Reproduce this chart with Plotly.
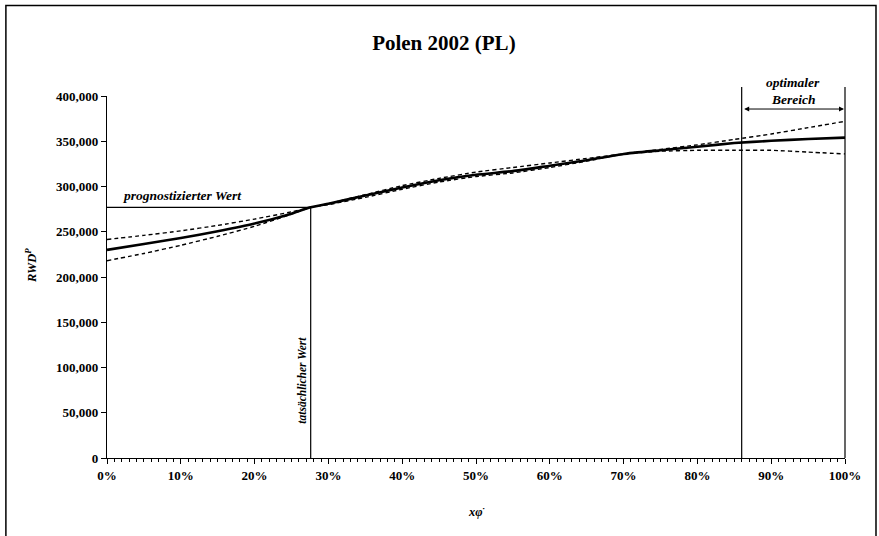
import plotly.graph_objects as go

# ---- data ----
x_pct = [0, 5, 10, 15, 20, 25, 27.6, 30, 35, 40, 45, 50, 55, 60, 65, 70, 75, 80, 85, 90, 95, 100]
rwd_main = [230000, 236500, 243000, 250500, 259000, 270000, 277000, 281000, 290000, 299000, 307000,
            313000, 317000, 323000, 329000, 336000, 340000, 344000, 348000, 350500, 352500, 354000]
rwd_upper = [241500, 246000, 251000, 257000, 264000, 272000, 277000, 281000, 291000, 301000, 309000,
             316000, 321000, 326000, 331000, 336000, 341000, 346000, 352000, 358000, 365000, 372000]
rwd_lower = [218000, 226000, 235000, 245000, 256000, 269500, 277000, 280000, 288000, 297000, 305000,
             311000, 315000, 321000, 328000, 336000, 339000, 340000, 340000, 340000, 338000, 336000]

prog_value = 277000      # prognostizierter Wert
actual_x = 27.6          # tatsächlicher Wert (%)
opt_lo, opt_hi = 86, 100 # optimaler Bereich (%)
y_max = 400000
line_top = 410000
arrow_y = 385600

x_ticks = list(range(0, 101, 10))
y_ticks = list(range(0, 400001, 50000))

FONT = "Liberation Serif"

fig = go.Figure()
fig.add_trace(go.Scatter(x=x_pct, y=rwd_upper, mode="lines",
                         line=dict(color="black", width=1.4, dash="4px,3px", shape="spline", smoothing=0.4),
                         showlegend=False))
fig.add_trace(go.Scatter(x=x_pct, y=rwd_lower, mode="lines",
                         line=dict(color="black", width=1.4, dash="4px,3px", shape="spline", smoothing=0.4),
                         showlegend=False))
fig.add_trace(go.Scatter(x=x_pct, y=rwd_main, mode="lines",
                         line=dict(color="black", width=2.6, shape="spline", smoothing=0.4),
                         showlegend=False))

shapes = [
    dict(type="line", xref="x", yref="y", x0=0, x1=actual_x, y0=prog_value, y1=prog_value,
         line=dict(color="black", width=1.2)),
    dict(type="line", xref="x", yref="y", x0=actual_x, x1=actual_x, y0=0, y1=prog_value,
         line=dict(color="black", width=1.2)),
    dict(type="line", xref="paper", yref="paper", x0=opt_lo / 100, x1=opt_lo / 100, y0=0, y1=line_top / y_max,
         line=dict(color="black", width=1.2)),
    dict(type="line", xref="paper", yref="paper", x0=opt_hi / 100, x1=opt_hi / 100, y0=0, y1=line_top / y_max,
         line=dict(color="black", width=1.2)),
    dict(type="rect", xref="paper", yref="paper", x0=-0.137, x1=1.0420, y0=-0.26, y1=1.25,
         line=dict(color="black", width=1.5)),
]

ann_font = dict(family=FONT, size=13.5, color="black", weight="bold", style="italic")
annotations = [
    dict(text="prognostizierter Wert", x=1.9, y=290000, xref="x", yref="y",
         xanchor="left", yanchor="middle", showarrow=False, font=ann_font),
    dict(text="tatsächlicher Wert", x=actual_x - 1.1, y=0.215, xref="x", yref="paper",
         textangle=-90, xanchor="center", yanchor="middle", showarrow=False,
         font=dict(family=FONT, size=11.5, color="black", weight="bold", style="italic")),
    dict(text="optimaler", x=(opt_lo + opt_hi) / 2, y=1.037, xref="x", yref="paper",
         xanchor="center", yanchor="middle", showarrow=False, font=ann_font),
    dict(text="Bereich", x=(opt_lo + opt_hi) / 2, y=0.99, xref="x", yref="paper",
         xanchor="center", yanchor="middle", showarrow=False, font=ann_font),
    dict(text="", x=opt_hi, y=arrow_y, ax=opt_lo, ay=arrow_y, xref="x", yref="y", axref="x", ayref="y",
         showarrow=True, arrowhead=2, arrowside="end+start", arrowsize=1, arrowwidth=1, arrowcolor="black",
         standoff=1, startstandoff=1),
    dict(text="RWD<sup>P</sup>", x=-0.103, y=0.533, xref="paper", yref="paper",
         xanchor="center", yanchor="middle", textangle=-90, showarrow=False,
         font=dict(family=FONT, size=12.5, color="black", weight="bold", style="italic")),
    dict(text="xφ<sup>·</sup>", x=0.5, y=-0.1475, xref="paper", yref="paper",
         xanchor="center", yanchor="middle", showarrow=False,
         font=dict(family=FONT, size=12.5, color="black", weight="bold", style="italic")),
]

tick_font = dict(family=FONT, size=13, color="black", weight="bold")

fig.update_layout(
    width=879, height=536,
    margin=dict(l=107, r=34, t=96, b=78),
    paper_bgcolor="white", plot_bgcolor="white",
    title=dict(text="Polen 2002 (PL)", x=0.505, xanchor="center", y=1 - 43 / 536, yanchor="middle",
               font=dict(family=FONT, size=21, color="black", weight="bold")),
    shapes=shapes, annotations=annotations,
    xaxis=dict(range=[0, 100], tickvals=x_ticks, ticktext=[f"{v}%" for v in x_ticks],
               showline=True, linecolor="black", linewidth=1.3, showgrid=False, zeroline=False,
               ticks="outside", ticklen=5, tickcolor="black", tickwidth=1,
               minor=dict(dtick=1, ticks="outside", ticklen=3, tickcolor="black", tickwidth=1),
               tickfont=tick_font),
    yaxis=dict(range=[0, y_max], tickvals=y_ticks, ticktext=[f"{v:,}" for v in y_ticks],
               showline=True, linecolor="black", linewidth=1.3, showgrid=False, zeroline=False,
               ticks="outside", ticklen=5, tickcolor="black", tickwidth=1,
               tickfont=tick_font),
)

fig.write_html("out.html", config={"displayModeBar": False},
               post_script="document.body.style.margin='0px';")
